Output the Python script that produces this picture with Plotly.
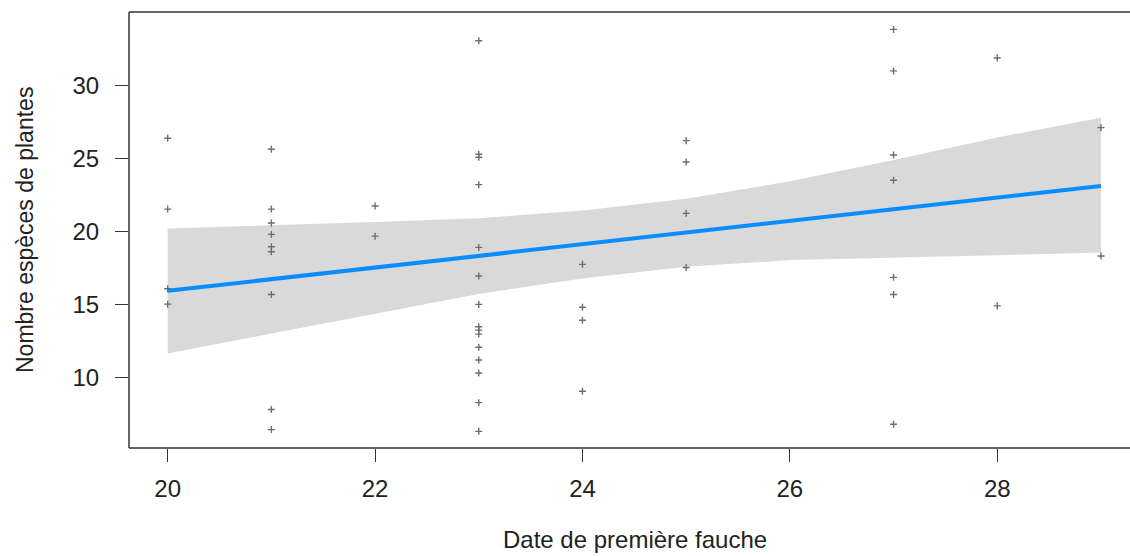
import plotly.graph_objects as go

# ---- data ----
pts_x = [20, 20, 20, 20,
         21, 21, 21, 21, 21, 21, 21, 21, 21,
         22, 22,
         23, 23, 23, 23, 23, 23, 23, 23, 23, 23, 23, 23, 23, 23, 23,
         24, 24, 24, 24,
         25, 25, 25, 25,
         27, 27, 27, 27, 27, 27, 27,
         28, 28,
         29, 29]
pts_y = [26.4, 21.55, 16.1, 15.05,
         25.64, 21.55, 20.6, 19.82, 18.97, 18.63, 15.71, 7.84, 6.47,
         21.76, 19.7,
         33.06, 25.3, 25.1, 23.22, 18.93, 16.97, 15.03, 13.5, 13.27, 13.0, 12.1, 11.23, 10.34, 8.31, 6.35,
         17.77, 14.84, 13.95, 9.09,
         26.23, 24.77, 21.26, 17.56,
         33.84, 31.0, 25.25, 23.52, 16.88, 15.71, 6.83,
         31.88, 14.93,
         27.12, 18.34]

fit_x = [20, 21, 22, 23, 24, 25, 26, 27, 28, 29]
fit_y = [15.96, 16.76, 17.55, 18.33, 19.13, 19.93, 20.73, 21.53, 22.33, 23.13]
band_hi = [20.23, 20.44, 20.66, 20.92, 21.45, 22.25, 23.45, 24.9, 26.45, 27.8]
band_lo = [11.67, 13.04, 14.41, 15.75, 16.8, 17.6, 18.06, 18.25, 18.4, 18.58]

x_ticks = [20, 22, 24, 26, 28]
y_ticks = [10, 15, 20, 25, 30]
x_title = "Date de première fauche"
y_title = "Nombre espèces de plantes"

FONT = "Liberation Sans, Arial, sans-serif"
W, H = 1130, 556
L, R, T, B = 129, 0, 12, 108

fig = go.Figure()
fig.add_trace(go.Scatter(x=fit_x + fit_x[::-1], y=band_hi + band_lo[::-1],
                         fill="toself", fillcolor="#D9D9D9", line=dict(width=0),
                         mode="lines", hoverinfo="skip", showlegend=False))
fig.add_trace(go.Scatter(x=pts_x, y=pts_y, mode="markers",
                         marker=dict(symbol="cross-thin", size=5,
                                     line=dict(color="#6E6E6E", width=1.4)),
                         showlegend=False))
fig.add_trace(go.Scatter(x=fit_x, y=fit_y, mode="lines",
                         line=dict(color="#0A8CFF", width=4),
                         showlegend=False))

axis_common = dict(showgrid=False, zeroline=False, ticks="outside", ticklen=13,
                   tickwidth=1.3, tickcolor="#333333", showline=False,
                   tickfont=dict(family=FONT, size=24, color="#222222"))
fig.update_xaxes(range=[19.627, 29.28], tickvals=x_ticks, ticklabelstandoff=6,
                 **axis_common)
fig.update_yaxes(range=[5.21, 35.03], tickvals=y_ticks, ticklabelstandoff=11,
                 **axis_common)

pw = W - L - R
ph = H - T - B
line = dict(color="#333333", width=1.5)
fig.add_shape(type="line", xref="paper", yref="paper", x0=0, x1=1.01, y0=1, y1=1, line=line)
fig.add_shape(type="line", xref="paper", yref="paper", x0=0, x1=1.01, y0=0, y1=0, line=line)
fig.add_shape(type="line", xref="paper", yref="paper", x0=0, x1=0, y0=0, y1=1, line=line)

fig.add_annotation(text=x_title, xref="paper", yref="paper",
                   x=(635 - L) / pw, y=-(539 - (H - B)) / ph,
                   xanchor="center", yanchor="middle", showarrow=False,
                   font=dict(family=FONT, size=24, color="#222222"))
fig.add_annotation(text=y_title, xref="paper", yref="paper",
                   x=-(L - 25) / pw, y=(H - B - 230) / ph, textangle=-90,
                   xanchor="center", yanchor="middle", showarrow=False,
                   font=dict(family=FONT, size=23, color="#222222"))

fig.update_layout(width=W, height=H, margin=dict(l=L, r=R, t=T, b=B),
                  paper_bgcolor="white", plot_bgcolor="white",
                  font=dict(family=FONT))
fig.write_html("out.html")
